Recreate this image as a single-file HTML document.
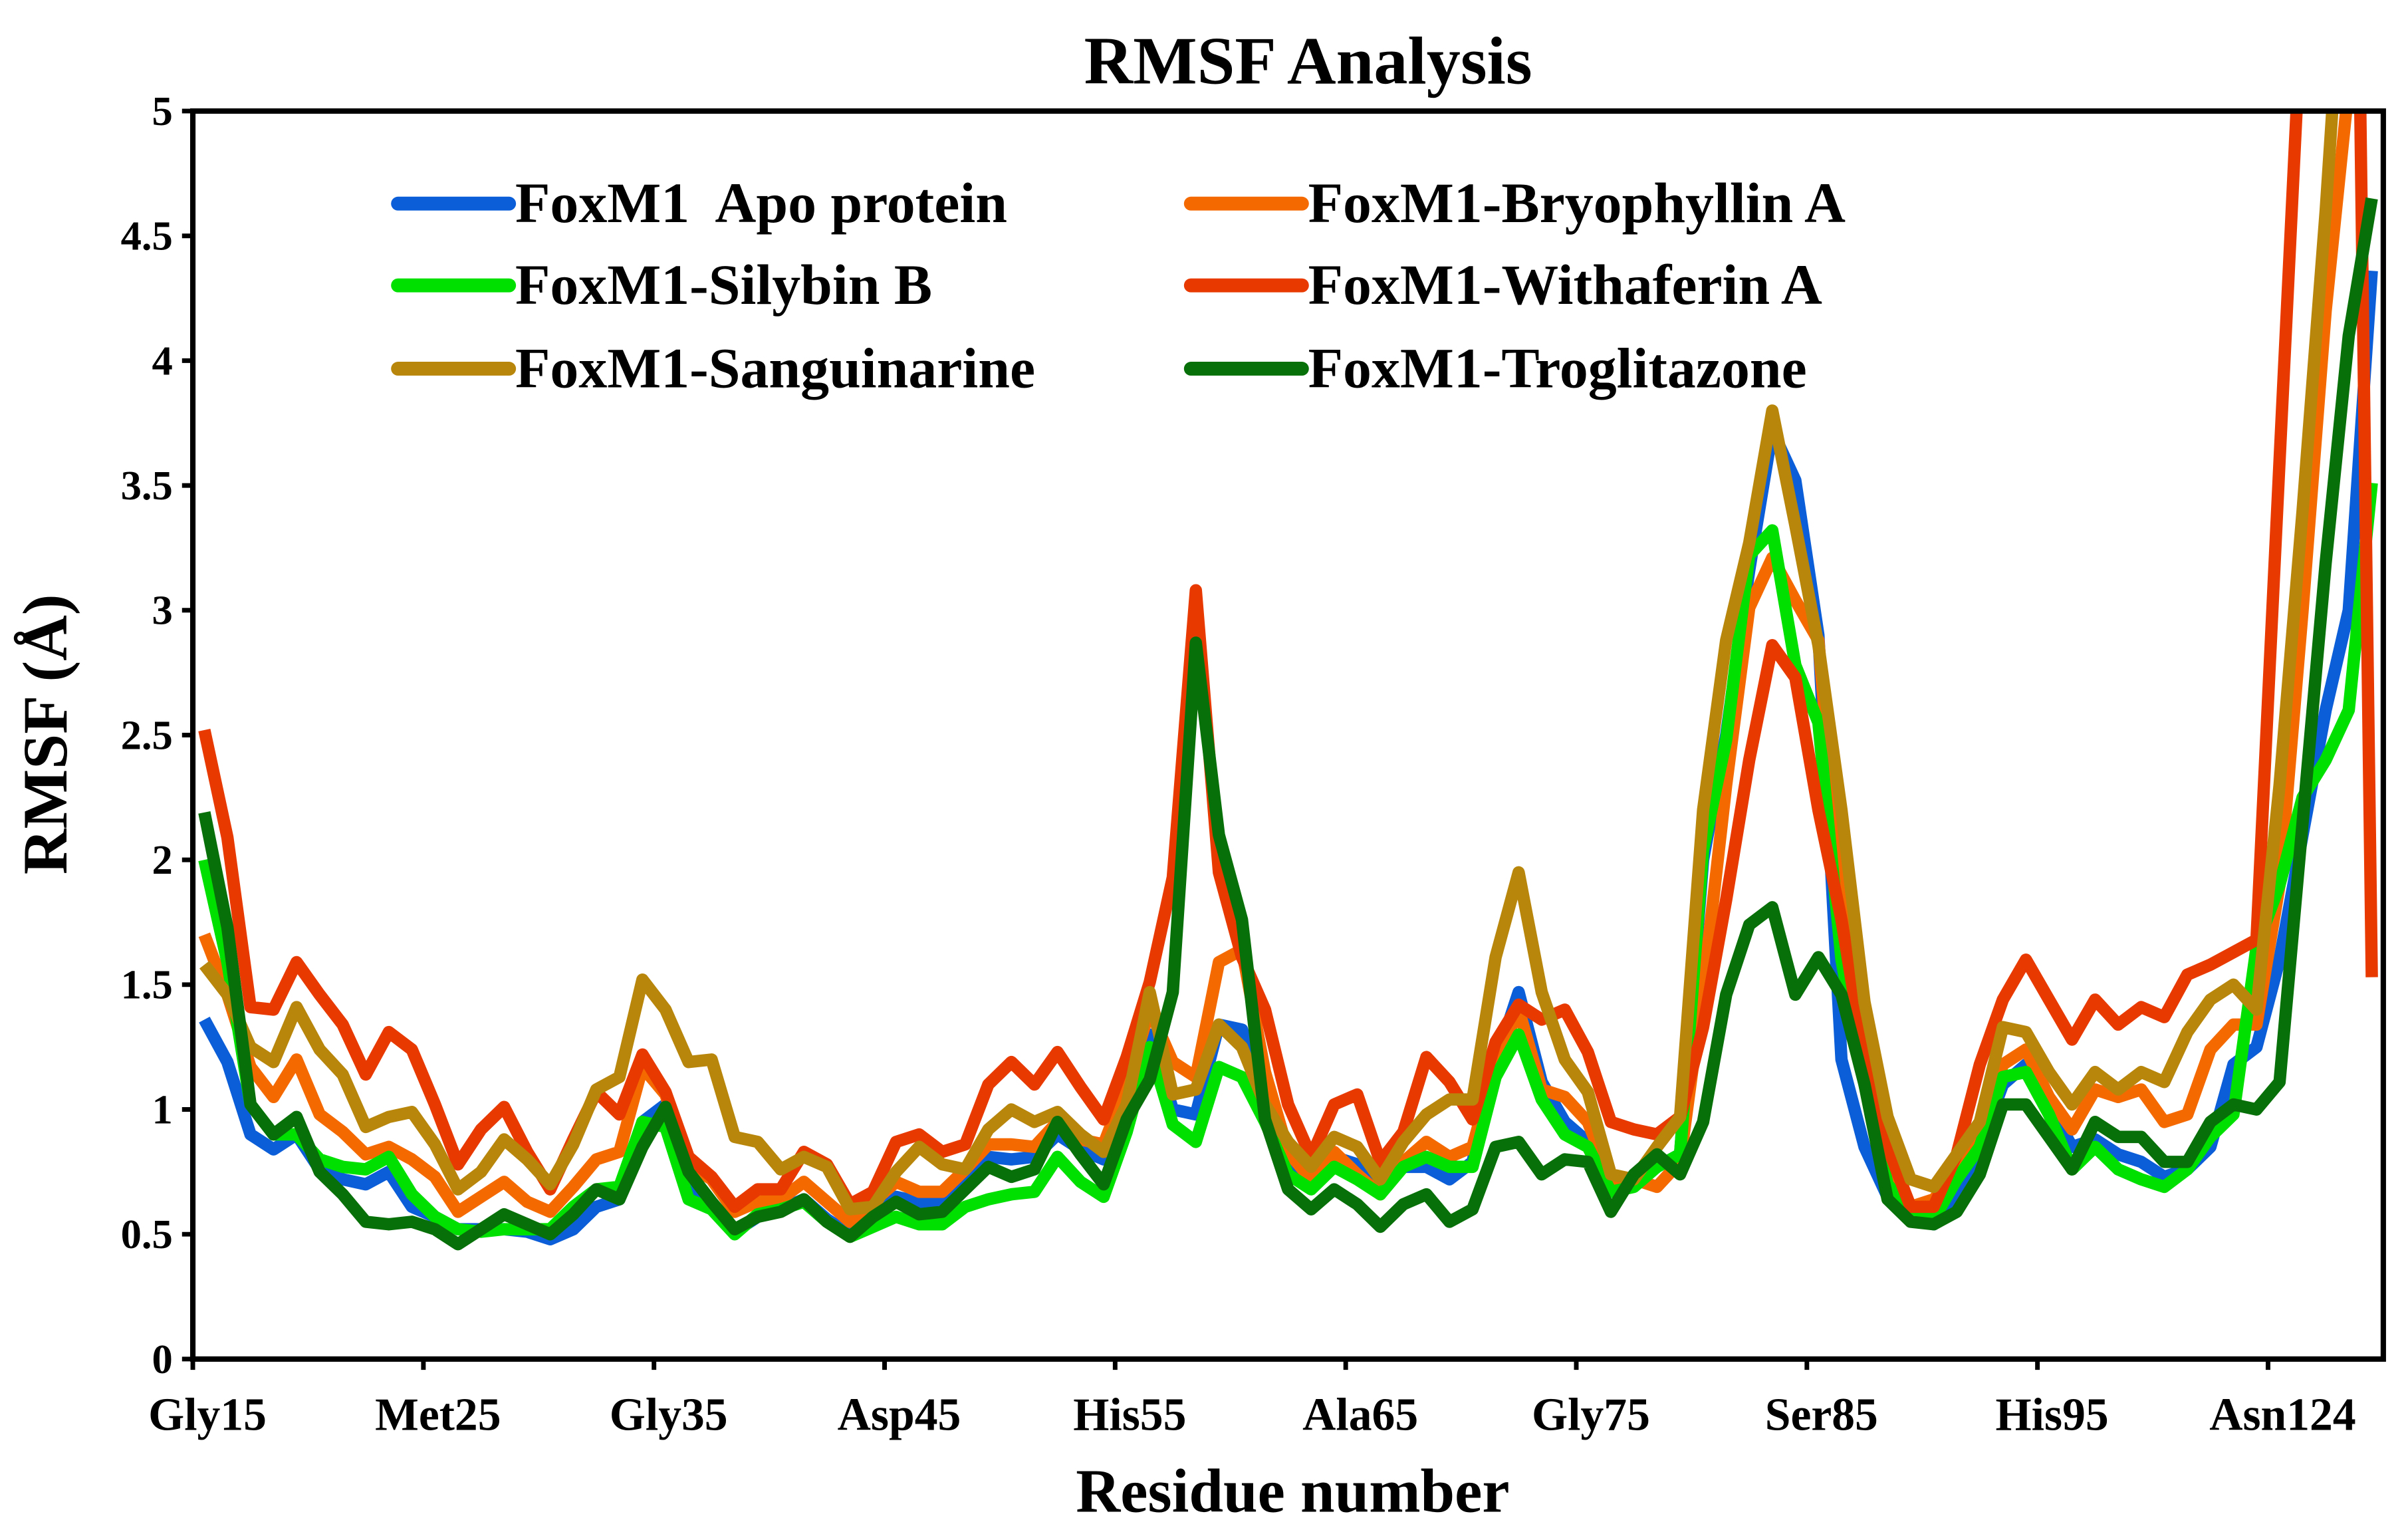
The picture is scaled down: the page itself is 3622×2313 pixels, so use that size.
<!DOCTYPE html>
<html><head><meta charset="utf-8"><style>
html,body{margin:0;padding:0;background:#fff}
svg{display:block}
text{font-family:"Liberation Serif",serif;font-weight:bold;fill:#000}
</style></head><body>
<svg id="chart" width="3622" height="2313" viewBox="0 0 1561 997" preserveAspectRatio="none" xmlns="http://www.w3.org/2000/svg">
<rect width="1561" height="997" fill="#fff"/>
<text x="848" y="54" font-size="44" text-anchor="middle">RMSF Analysis</text>
<defs><clipPath id="plotclip"><rect x="125" y="72" width="1420" height="809"/></clipPath></defs>
<g id="series" clip-path="url(#plotclip)"></g>
<rect x="125" y="72" width="1420" height="809" fill="none" stroke="#000" stroke-width="3.5"/>
<g id="yaxis"></g>
<g id="xaxis"></g>
<text transform="translate(43,476) rotate(-90)" font-size="41" text-anchor="middle">RMSF (Å)</text>
<text x="838" y="980" font-size="40" text-anchor="middle">Residue number</text>
<g id="legend"></g>
</svg>
<script>
const categoryLabels = ["Gly15","Met25","Gly35","Asp45","His55","Ala65","Gly75","Ser85","His95","Asn124"];
const labelIndices = [0,10,20,30,40,50,60,70,80,90];
const yTicks = [0,0.5,1,1.5,2,2.5,3,3.5,4,4.5,5];
const yTickLabels = ["0","0.5","1","1.5","2","2.5","3","3.5","4","4.5","5"];
const seriesNames = ["FoxM1  Apo protein","FoxM1-Bryophyllin A","FoxM1-Silybin B","FoxM1-Withaferin A","FoxM1-Sanguinarine","FoxM1-Troglitazone"];
const seriesColors = ["#0b5ed7","#f56a00","#00e000","#e83a00","#b8860b","#087008"];
const apo = [1.36,1.19,0.90,0.84,0.90,0.76,0.72,0.70,0.75,0.61,0.57,0.52,0.52,0.52,0.51,0.48,0.52,0.61,0.64,0.95,1.02,
0.68,0.62,0.51,0.57,0.60,0.64,0.56,0.50,0.57,0.65,0.63,0.62,0.70,0.81,0.80,0.81,0.90,0.84,0.80,0.95,
1.30,1.00,0.98,1.34,1.32,1.02,0.80,0.72,0.81,0.78,0.70,0.77,0.77,0.72,0.79,1.19,1.47,1.11,0.95,0.87,
0.67,0.70,0.77,0.82,2.00,2.50,3.16,3.72,3.52,2.90,1.20,0.85,0.65,0.56,0.54,0.64,0.85,1.10,1.18,1.02,
0.85,0.88,0.82,0.79,0.73,0.76,0.85,1.18,1.25,1.60,2.10,2.60,3.00,4.36];
const bryophyllin = [1.70,1.46,1.17,1.05,1.20,0.98,0.91,0.82,0.85,0.80,0.73,0.59,0.65,0.71,0.63,0.59,0.69,0.80,0.83,1.17,1.06,
0.78,0.72,0.59,0.63,0.64,0.71,0.63,0.55,0.63,0.71,0.67,0.67,0.76,0.86,0.86,0.85,0.95,0.88,0.86,1.10,
1.40,1.19,1.13,1.59,1.64,1.15,0.83,0.72,0.83,0.74,0.66,0.79,0.87,0.81,0.85,1.19,1.40,1.08,1.05,0.95,
0.72,0.72,0.69,0.79,1.48,2.30,3.01,3.21,3.04,2.88,1.80,1.15,0.75,0.61,0.64,0.74,0.90,1.18,1.24,1.05,
0.92,1.08,1.05,1.08,0.95,0.98,1.24,1.34,1.34,1.90,3.00,4.20,5.10,6.00];
const silybin = [2.00,1.59,1.02,0.90,0.90,0.80,0.77,0.76,0.81,0.66,0.57,0.52,0.51,0.52,0.52,0.52,0.61,0.68,0.69,0.95,0.93,
0.64,0.60,0.50,0.58,0.60,0.63,0.55,0.49,0.53,0.57,0.54,0.54,0.61,0.64,0.66,0.67,0.81,0.71,0.65,0.91,
1.25,0.94,0.87,1.17,1.13,0.95,0.74,0.68,0.77,0.72,0.66,0.77,0.81,0.77,0.77,1.13,1.30,1.04,0.90,0.85,
0.67,0.69,0.77,0.82,2.04,2.48,3.22,3.32,2.78,2.55,1.60,1.10,0.70,0.59,0.56,0.72,0.85,1.13,1.15,0.98,
0.76,0.85,0.76,0.72,0.69,0.76,0.89,0.98,1.65,1.90,2.25,2.40,2.60,3.51];
const withaferin = [2.52,2.09,1.41,1.40,1.59,1.46,1.34,1.14,1.31,1.24,1.02,0.78,0.92,1.01,0.83,0.68,0.88,1.07,0.98,1.22,1.07,
0.81,0.73,0.61,0.68,0.68,0.83,0.78,0.62,0.67,0.87,0.90,0.83,0.86,1.10,1.19,1.10,1.23,1.09,0.96,1.21,
1.51,1.93,3.08,1.95,1.61,1.40,1.02,0.81,1.02,1.06,0.79,0.91,1.21,1.11,0.96,1.27,1.42,1.36,1.40,1.23,
0.95,0.92,0.90,0.97,1.33,1.84,2.40,2.86,2.73,2.20,1.76,1.20,0.85,0.61,0.61,0.82,1.18,1.44,1.60,1.44,
1.28,1.44,1.34,1.41,1.37,1.54,1.58,1.63,1.68,3.60,5.50,9.00,8.50,1.53];
const sanguinarine = [1.58,1.46,1.25,1.19,1.41,1.24,1.14,0.93,0.97,0.99,0.86,0.68,0.75,0.88,0.80,0.70,0.86,1.08,1.13,1.52,1.40,
1.19,1.20,0.89,0.87,0.76,0.81,0.77,0.60,0.61,0.75,0.85,0.78,0.76,0.92,1.00,0.95,0.99,0.90,0.83,1.02,
1.47,1.06,1.08,1.34,1.25,1.02,0.87,0.77,0.89,0.85,0.72,0.87,0.98,1.04,1.04,1.61,1.95,1.47,1.20,1.07,
0.74,0.72,0.85,0.97,2.20,2.88,3.27,3.80,3.34,2.86,2.20,1.43,0.97,0.72,0.69,0.82,0.95,1.33,1.31,1.15,
1.02,1.15,1.08,1.15,1.11,1.31,1.44,1.50,1.40,2.30,3.40,4.60,6.00,7.00];
const troglitazone = [2.19,1.73,1.02,0.90,0.97,0.75,0.66,0.55,0.54,0.55,0.52,0.46,0.52,0.58,0.54,0.50,0.58,0.68,0.64,0.85,1.01,
0.75,0.63,0.52,0.57,0.59,0.64,0.55,0.49,0.57,0.63,0.58,0.59,0.68,0.77,0.73,0.76,0.95,0.82,0.70,0.96,
1.12,1.47,2.87,2.10,1.76,0.96,0.68,0.60,0.68,0.62,0.53,0.62,0.66,0.55,0.60,0.85,0.87,0.74,0.80,0.79,
0.59,0.74,0.82,0.74,0.95,1.46,1.74,1.81,1.46,1.61,1.46,1.10,0.64,0.55,0.54,0.59,0.74,1.02,1.02,0.89,
0.76,0.95,0.89,0.89,0.79,0.79,0.95,1.02,1.00,1.11,2.15,3.19,4.10,4.65];

const NS = "http://www.w3.org/2000/svg";
const allSeries = [apo, bryophyllin, silybin, withaferin, sanguinarine, troglitazone];
const seriesKeys = ["apo","bryophyllin","silybin","withaferin","sanguinarine","troglitazone"];
const PL = 125, PR = 1545, PT = 72, PB = 881, YMAX = 5, NCAT = 95;
function xScale(i){ return PL + (i + 0.5) * (PR - PL) / NCAT; }
function yScale(v){ return PB - v / YMAX * (PB - PT); }

const gS = document.getElementById('series');
allSeries.forEach(function(vals, s){
  const pts = vals.map(function(v, i){ return xScale(i).toFixed(2) + ',' + yScale(v).toFixed(2); }).join(' ');
  const pl = document.createElementNS(NS, 'polyline');
  pl.setAttribute('points', pts);
  pl.setAttribute('fill', 'none');
  pl.setAttribute('stroke', seriesColors[s]);
  pl.setAttribute('stroke-width', '8');
  pl.setAttribute('stroke-linejoin', 'round');
  
  
  gS.appendChild(pl);
});

const gY = document.getElementById('yaxis');
yTicks.forEach(function(t, k){
  const y = yScale(t);
  const ln = document.createElementNS(NS, 'line');
  ln.setAttribute('x1', PL - 7); ln.setAttribute('x2', PL);
  ln.setAttribute('y1', y); ln.setAttribute('y2', y);
  ln.setAttribute('stroke', '#000'); ln.setAttribute('stroke-width', '3');
  
  
  gY.appendChild(ln);
  const tx = document.createElementNS(NS, 'text');
  tx.setAttribute('x', 112); tx.setAttribute('y', y + 9);
  tx.setAttribute('font-size', '27'); tx.setAttribute('text-anchor', 'end');
  tx.textContent = yTickLabels[k];
  
  
  gY.appendChild(tx);
});

const gX = document.getElementById('xaxis');
for (let k = 0; k <= NCAT; k += 10) {
  const x = PL + k * (PR - PL) / NCAT;
  const ln = document.createElementNS(NS, 'line');
  ln.setAttribute('x1', x); ln.setAttribute('x2', x);
  ln.setAttribute('y1', PB); ln.setAttribute('y2', PB + 7);
  ln.setAttribute('stroke', '#000'); ln.setAttribute('stroke-width', '3');
  
  
  gX.appendChild(ln);
}
categoryLabels.forEach(function(lab, k){
  const tx = document.createElementNS(NS, 'text');
  tx.setAttribute('x', xScale(labelIndices[k]) + 2);
  tx.setAttribute('y', 927);
  tx.setAttribute('font-size', '30'); tx.setAttribute('text-anchor', 'middle');
  tx.textContent = lab;
  
  
  gX.appendChild(tx);
});

const gL = document.getElementById('legend');
const legX = [258, 772], legY = [132, 185, 239];
seriesNames.forEach(function(name, s){
  const col = s % 2, row = Math.floor(s / 2);
  const g = document.createElementNS(NS, 'g');
  
  
  const ln = document.createElementNS(NS, 'line');
  ln.setAttribute('x1', legX[col]); ln.setAttribute('x2', legX[col] + 72);
  ln.setAttribute('y1', legY[row]); ln.setAttribute('y2', legY[row]);
  ln.setAttribute('stroke', seriesColors[s]); ln.setAttribute('stroke-width', '9');
  ln.setAttribute('stroke-linecap', 'round');
  
  
  g.appendChild(ln);
  const tx = document.createElementNS(NS, 'text');
  tx.setAttribute('x', legX[col] + 76); tx.setAttribute('y', legY[row] + 12);
  tx.setAttribute('font-size', '37');
  tx.setAttribute('xml:space', 'preserve');
  tx.style.whiteSpace = 'pre';
  tx.textContent = name;
  
  
  g.appendChild(tx);
  gL.appendChild(g);
});
</script>
</body></html>
